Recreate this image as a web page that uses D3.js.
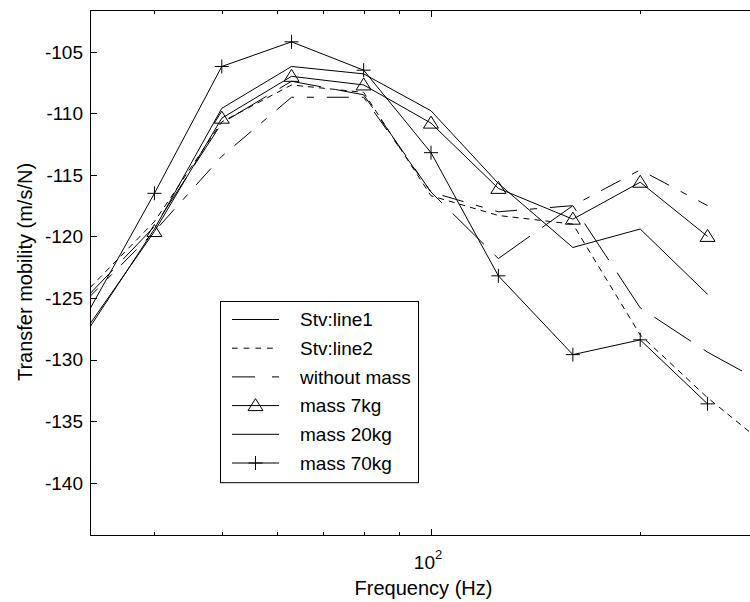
<!DOCTYPE html>
<html><head><meta charset="utf-8">
<script src="https://cdn.jsdelivr.net/npm/d3@7"></script>
<style>body{margin:0;background:#fff}svg{display:block}text{font-family:"Liberation Sans",Arial,sans-serif;fill:#000}</style>
</head><body>
<svg id="chart" width="750" height="602"></svg>
<script>
const freqs = [31.5, 40, 50, 63, 80, 100, 125, 160, 200, 250, 315];
const stvLine1 = [-125.3, -119.2, -110.8, -107.4, -108.5, -116.4, -121.8, -117.5, -125.8, -129.4, -132.5];
const stvLine2 = [-124.8, -118.8, -110.7, -107.7, -108.3, -116.7, -118.3, -119.0, -128.0, -133.1, -137.7];
const withoutMass = [-125.5, -119.6, -113.5, -108.7, -108.7, -116.4, -118.0, -117.5, -114.6, -117.5, null];
const mass7kg = [-128.0, -119.6, -110.4, -107.0, -107.7, -110.8, -116.1, -118.6, -115.6, -120.0, null];
const mass20kg = [-128.3, -119.4, -109.6, -106.2, -106.8, -109.8, -115.7, -120.9, -119.4, -124.7, null];
const mass70kg = [-127.0, -116.5, -106.2, -104.2, -106.5, -113.2, -123.2, -129.6, -128.4, -133.6, null];
const yTickValues = [-140, -135, -130, -125, -120, -115, -110, -105];
const xMajorTicks = [100];
const xMinorTicks = [40, 50, 60, 70, 80, 90, 200];
const seriesNames = ["Stv:line1", "Stv:line2", "without mass", "mass 7kg", "mass 20kg", "mass 70kg"];
const xLabel = "Frequency (Hz)";
const yLabel = "Transfer mobility (m/s/N)";

const series = [
  {name: seriesNames[0], values: stvLine1, dash: "44,15", legendDash: null, marker: null},
  {name: seriesNames[1], values: stvLine2, dash: "6,5", legendDash: "5.7,6", marker: null},
  {name: seriesNames[2], values: withoutMass, dash: "22,13,7,13", legendDash: "23,17,7,17", marker: null},
  {name: seriesNames[3], values: mass7kg, dash: null, legendDash: null, marker: "tri"},
  {name: seriesNames[4], values: mass20kg, dash: null, legendDash: null, marker: null},
  {name: seriesNames[5], values: mass70kg, dash: null, legendDash: null, marker: "plus"}
];

const L = 90, R = 757, T = 10, B = 536;
const svg = d3.select("#chart");
const x = d3.scaleLog().domain([100, 1000]).range([431, 431 + 695]);
const y = d3.scaleLinear().domain([-140, -105]).range([482.7, 51.7]);

svg.append("defs").append("clipPath").attr("id", "clip")
  .append("rect").attr("x", L).attr("y", T).attr("width", R - L).attr("height", B - T);

const g = svg.append("g").attr("clip-path", "url(#clip)");
const line = d3.line().defined(d => d[1] !== null).x(d => x(d[0])).y(d => y(d[1]));

function drawMarker(sel, type, cx, cy) {
  if (type === "tri") {
    sel.append("path").attr("d", `M${cx},${cy - 7}L${cx + 7.5},${cy + 5}L${cx - 7.5},${cy + 5}Z`)
      .attr("fill", "none").attr("stroke", "#000").attr("stroke-width", 1);
  } else if (type === "plus") {
    sel.append("path").attr("d", `M${cx - 7},${cy}H${cx + 7}M${cx},${cy - 7}V${cy + 7}`)
      .attr("fill", "none").attr("stroke", "#000").attr("stroke-width", 1);
  }
}

series.forEach(s => {
  const pts = freqs.map((f, i) => [f, s.values[i]]);
  g.append("path").datum(pts).attr("d", line)
    .attr("fill", "none").attr("stroke", "#000").attr("stroke-width", 1)
    .attr("stroke-dasharray", s.dash);
  if (s.marker) {
    pts.filter(p => p[1] !== null).forEach(p => drawMarker(g, s.marker, x(p[0]), y(p[1])));
  }
});

// axes box
const axis = svg.append("g").attr("stroke", "#000").attr("stroke-width", 1).attr("fill", "none");
axis.append("rect").attr("x", L + 0.5).attr("y", T + 0.5).attr("width", R - L - 1).attr("height", B - T - 1);

yTickValues.forEach(v => {
  const yy = Math.round(y(v)) + 0.5;
  axis.append("line").attr("x1", L).attr("x2", L + 7).attr("y1", yy).attr("y2", yy);
  svg.append("text").attr("x", 83).attr("y", y(v)).attr("dy", "0.36em")
    .attr("text-anchor", "end").attr("font-size", 19).text(String(v));
});

xMajorTicks.forEach(v => {
  const xx = Math.round(x(v)) + 0.5;
  axis.append("line").attr("x1", xx).attr("x2", xx).attr("y1", B).attr("y2", B - 7);
  axis.append("line").attr("x1", xx).attr("x2", xx).attr("y1", T).attr("y2", T + 7);
  const t = svg.append("text").attr("x", x(v) - 3).attr("y", 569).attr("text-anchor", "middle").attr("font-size", 19);
  t.append("tspan").text("10");
  t.append("tspan").attr("dy", -10).attr("font-size", 13).text("2");
});
xMinorTicks.forEach(v => {
  const xx = Math.round(x(v)) + 0.5;
  axis.append("line").attr("x1", xx).attr("x2", xx).attr("y1", B).attr("y2", B - 4);
  axis.append("line").attr("x1", xx).attr("x2", xx).attr("y1", T).attr("y2", T + 4);
});

svg.append("text").attr("x", (L + R) / 2).attr("y", 595).attr("text-anchor", "middle")
  .attr("font-size", 20).text(xLabel);
svg.append("text").attr("transform", `translate(31.5,272) rotate(-90)`)
  .attr("text-anchor", "middle").attr("font-size", 20).text(yLabel);

// legend
const lg = svg.append("g");
const lx = 220, ly = 301, lw = 198, rowH = 28.7;
lg.append("rect").attr("x", lx + 0.5).attr("y", ly + 0.5).attr("width", lw).attr("height", rowH * 6 + 9)
  .attr("fill", "#fff").attr("stroke", "#000").attr("stroke-width", 1);
series.forEach((s, i) => {
  const yy = ly + 18.5 + i * rowH;
  lg.append("line").attr("x1", 232).attr("x2", 279).attr("y1", yy).attr("y2", yy)
    .attr("stroke", "#000").attr("stroke-width", 1).attr("stroke-dasharray", s.legendDash);
  if (s.marker) drawMarker(lg, s.marker, 255.5, yy);
  lg.append("text").attr("x", 300).attr("y", yy).attr("dy", "0.36em").attr("font-size", 19).text(s.name);
});
</script>
</body></html>
